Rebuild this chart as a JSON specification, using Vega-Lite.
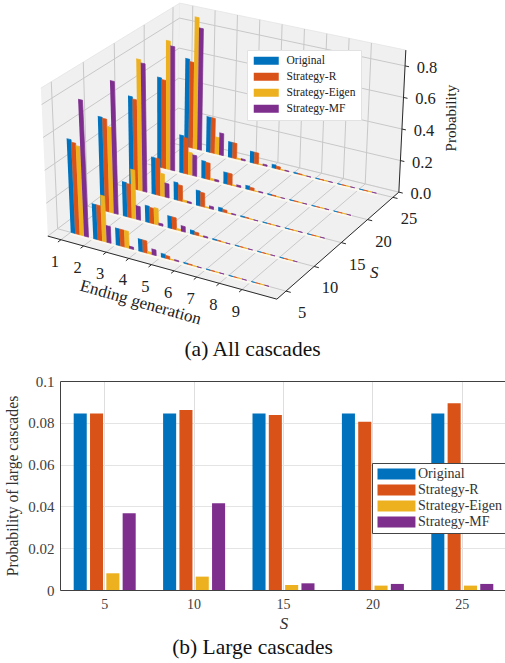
{"$schema":"https://vega.github.io/schema/vega-lite/v6.json","background":"white","padding":{"left":4,"top":0,"right":0,"bottom":0},"spacing":41,"bounds":"flush",
"config":{"view":{"stroke":null},"font":"Liberation Serif"},
"datasets":{
"scene":[
{"part":"pane","id":"left","k":0,"gen":0.42,"S":3.4,"p":0},{"part":"pane","id":"left","k":1,"gen":0.42,"S":26.2,"p":0},{"part":"pane","id":"left","k":2,"gen":0.42,"S":26.2,"p":0.9},{"part":"pane","id":"left","k":3,"gen":0.42,"S":3.4,"p":0.9},
{"part":"pane","id":"back","k":0,"gen":0.42,"S":26.2,"p":0},{"part":"pane","id":"back","k":1,"gen":10.54,"S":26.2,"p":0},{"part":"pane","id":"back","k":2,"gen":10.54,"S":26.2,"p":0.9},{"part":"pane","id":"back","k":3,"gen":0.42,"S":26.2,"p":0.9},
{"part":"pane","id":"floor","k":0,"gen":0.42,"S":3.4,"p":0},{"part":"pane","id":"floor","k":1,"gen":10.54,"S":3.4,"p":0},{"part":"pane","id":"floor","k":2,"gen":10.54,"S":26.2,"p":0},{"part":"pane","id":"floor","k":3,"gen":0.42,"S":26.2,"p":0},
{"part":"grid","id":"p0","k":0,"gen":0.42,"S":3.4,"p":0},{"part":"grid","id":"p0","k":1,"gen":0.42,"S":26.2,"p":0},{"part":"grid","id":"p0","k":2,"gen":10.54,"S":26.2,"p":0},
{"part":"grid","id":"p2","k":0,"gen":0.42,"S":3.4,"p":0.2},{"part":"grid","id":"p2","k":1,"gen":0.42,"S":26.2,"p":0.2},{"part":"grid","id":"p2","k":2,"gen":10.54,"S":26.2,"p":0.2},
{"part":"grid","id":"p4","k":0,"gen":0.42,"S":3.4,"p":0.4},{"part":"grid","id":"p4","k":1,"gen":0.42,"S":26.2,"p":0.4},{"part":"grid","id":"p4","k":2,"gen":10.54,"S":26.2,"p":0.4},
{"part":"grid","id":"p6","k":0,"gen":0.42,"S":3.4,"p":0.6},{"part":"grid","id":"p6","k":1,"gen":0.42,"S":26.2,"p":0.6},{"part":"grid","id":"p6","k":2,"gen":10.54,"S":26.2,"p":0.6},
{"part":"grid","id":"p8","k":0,"gen":0.42,"S":3.4,"p":0.8},{"part":"grid","id":"p8","k":1,"gen":0.42,"S":26.2,"p":0.8},{"part":"grid","id":"p8","k":2,"gen":10.54,"S":26.2,"p":0.8},
{"part":"grid","id":"s5","k":0,"gen":10.54,"S":5,"p":0},{"part":"grid","id":"s5","k":1,"gen":0.42,"S":5,"p":0},{"part":"grid","id":"s5","k":2,"gen":0.42,"S":5,"p":0.9},
{"part":"grid","id":"s10","k":0,"gen":10.54,"S":10,"p":0},{"part":"grid","id":"s10","k":1,"gen":0.42,"S":10,"p":0},{"part":"grid","id":"s10","k":2,"gen":0.42,"S":10,"p":0.9},
{"part":"grid","id":"s15","k":0,"gen":10.54,"S":15,"p":0},{"part":"grid","id":"s15","k":1,"gen":0.42,"S":15,"p":0},{"part":"grid","id":"s15","k":2,"gen":0.42,"S":15,"p":0.9},
{"part":"grid","id":"s20","k":0,"gen":10.54,"S":20,"p":0},{"part":"grid","id":"s20","k":1,"gen":0.42,"S":20,"p":0},{"part":"grid","id":"s20","k":2,"gen":0.42,"S":20,"p":0.9},
{"part":"grid","id":"s25","k":0,"gen":10.54,"S":25,"p":0},{"part":"grid","id":"s25","k":1,"gen":0.42,"S":25,"p":0},{"part":"grid","id":"s25","k":2,"gen":0.42,"S":25,"p":0.9},
{"part":"grid","id":"g1","k":0,"gen":1,"S":3.4,"p":0},{"part":"grid","id":"g1","k":1,"gen":1,"S":26.2,"p":0},{"part":"grid","id":"g1","k":2,"gen":1,"S":26.2,"p":0.9},
{"part":"grid","id":"g2","k":0,"gen":2,"S":3.4,"p":0},{"part":"grid","id":"g2","k":1,"gen":2,"S":26.2,"p":0},{"part":"grid","id":"g2","k":2,"gen":2,"S":26.2,"p":0.9},
{"part":"grid","id":"g3","k":0,"gen":3,"S":3.4,"p":0},{"part":"grid","id":"g3","k":1,"gen":3,"S":26.2,"p":0},{"part":"grid","id":"g3","k":2,"gen":3,"S":26.2,"p":0.9},
{"part":"grid","id":"g4","k":0,"gen":4,"S":3.4,"p":0},{"part":"grid","id":"g4","k":1,"gen":4,"S":26.2,"p":0},{"part":"grid","id":"g4","k":2,"gen":4,"S":26.2,"p":0.9},
{"part":"grid","id":"g5","k":0,"gen":5,"S":3.4,"p":0},{"part":"grid","id":"g5","k":1,"gen":5,"S":26.2,"p":0},{"part":"grid","id":"g5","k":2,"gen":5,"S":26.2,"p":0.9},
{"part":"grid","id":"g6","k":0,"gen":6,"S":3.4,"p":0},{"part":"grid","id":"g6","k":1,"gen":6,"S":26.2,"p":0},{"part":"grid","id":"g6","k":2,"gen":6,"S":26.2,"p":0.9},
{"part":"grid","id":"g7","k":0,"gen":7,"S":3.4,"p":0},{"part":"grid","id":"g7","k":1,"gen":7,"S":26.2,"p":0},{"part":"grid","id":"g7","k":2,"gen":7,"S":26.2,"p":0.9},
{"part":"grid","id":"g8","k":0,"gen":8,"S":3.4,"p":0},{"part":"grid","id":"g8","k":1,"gen":8,"S":26.2,"p":0},{"part":"grid","id":"g8","k":2,"gen":8,"S":26.2,"p":0.9},
{"part":"grid","id":"g9","k":0,"gen":9,"S":3.4,"p":0},{"part":"grid","id":"g9","k":1,"gen":9,"S":26.2,"p":0},{"part":"grid","id":"g9","k":2,"gen":9,"S":26.2,"p":0.9},
{"part":"axis","id":"ax","k":0,"gen":0.42,"S":3.4,"p":0},{"part":"axis","id":"ax","k":1,"gen":10.54,"S":3.4,"p":0},{"part":"axis","id":"ax","k":2,"gen":10.54,"S":26.2,"p":0},{"part":"axis","id":"ax","k":3,"gen":10.54,"S":26.2,"p":0.9},
{"part":"axis","id":"tg1","k":0,"gen":1,"S":3.4,"p":0},{"part":"axis","id":"tg1","k":1,"gen":1,"S":2.9,"p":0},
{"part":"axis","id":"tg2","k":0,"gen":2,"S":3.4,"p":0},{"part":"axis","id":"tg2","k":1,"gen":2,"S":2.9,"p":0},
{"part":"axis","id":"tg3","k":0,"gen":3,"S":3.4,"p":0},{"part":"axis","id":"tg3","k":1,"gen":3,"S":2.9,"p":0},
{"part":"axis","id":"tg4","k":0,"gen":4,"S":3.4,"p":0},{"part":"axis","id":"tg4","k":1,"gen":4,"S":2.9,"p":0},
{"part":"axis","id":"tg5","k":0,"gen":5,"S":3.4,"p":0},{"part":"axis","id":"tg5","k":1,"gen":5,"S":2.9,"p":0},
{"part":"axis","id":"tg6","k":0,"gen":6,"S":3.4,"p":0},{"part":"axis","id":"tg6","k":1,"gen":6,"S":2.9,"p":0},
{"part":"axis","id":"tg7","k":0,"gen":7,"S":3.4,"p":0},{"part":"axis","id":"tg7","k":1,"gen":7,"S":2.9,"p":0},
{"part":"axis","id":"tg8","k":0,"gen":8,"S":3.4,"p":0},{"part":"axis","id":"tg8","k":1,"gen":8,"S":2.9,"p":0},
{"part":"axis","id":"tg9","k":0,"gen":9,"S":3.4,"p":0},{"part":"axis","id":"tg9","k":1,"gen":9,"S":2.9,"p":0},
{"part":"axis","id":"ts5","k":0,"gen":10.54,"S":5,"p":0},{"part":"axis","id":"ts5","k":1,"gen":10.75,"S":5,"p":0},
{"part":"axis","id":"ts10","k":0,"gen":10.54,"S":10,"p":0},{"part":"axis","id":"ts10","k":1,"gen":10.75,"S":10,"p":0},
{"part":"axis","id":"ts15","k":0,"gen":10.54,"S":15,"p":0},{"part":"axis","id":"ts15","k":1,"gen":10.75,"S":15,"p":0},
{"part":"axis","id":"ts20","k":0,"gen":10.54,"S":20,"p":0},{"part":"axis","id":"ts20","k":1,"gen":10.75,"S":20,"p":0},
{"part":"axis","id":"ts25","k":0,"gen":10.54,"S":25,"p":0},{"part":"axis","id":"ts25","k":1,"gen":10.75,"S":25,"p":0},
{"part":"axis","id":"tp0","k":0,"gen":10.54,"S":26.2,"p":0},{"part":"axis","id":"tp0","k":1,"gen":10.72,"S":26.2,"p":0},
{"part":"axis","id":"tp2","k":0,"gen":10.54,"S":26.2,"p":0.2},{"part":"axis","id":"tp2","k":1,"gen":10.72,"S":26.2,"p":0.2},
{"part":"axis","id":"tp4","k":0,"gen":10.54,"S":26.2,"p":0.4},{"part":"axis","id":"tp4","k":1,"gen":10.72,"S":26.2,"p":0.4},
{"part":"axis","id":"tp6","k":0,"gen":10.54,"S":26.2,"p":0.6},{"part":"axis","id":"tp6","k":1,"gen":10.72,"S":26.2,"p":0.6},
{"part":"axis","id":"tp8","k":0,"gen":10.54,"S":26.2,"p":0.8},{"part":"axis","id":"tp8","k":1,"gen":10.72,"S":26.2,"p":0.8},
{"part":"genLabel","label":"1","gen":1,"S":3.4,"p":0},{"part":"genLabel","label":"2","gen":2,"S":3.4,"p":0},{"part":"genLabel","label":"3","gen":3,"S":3.4,"p":0},{"part":"genLabel","label":"4","gen":4,"S":3.4,"p":0},{"part":"genLabel","label":"5","gen":5,"S":3.4,"p":0},{"part":"genLabel","label":"6","gen":6,"S":3.4,"p":0},{"part":"genLabel","label":"7","gen":7,"S":3.4,"p":0},{"part":"genLabel","label":"8","gen":8,"S":3.4,"p":0},{"part":"genLabel","label":"9","gen":9,"S":3.4,"p":0},
{"part":"sLabel","label":"5","gen":10.54,"S":5,"p":0},{"part":"sLabel","label":"10","gen":10.54,"S":10,"p":0},{"part":"sLabel","label":"15","gen":10.54,"S":15,"p":0},{"part":"sLabel","label":"20","gen":10.54,"S":20,"p":0},{"part":"sLabel","label":"25","gen":10.54,"S":25,"p":0},
{"part":"pLabel","label":"0.0","gen":10.54,"S":26.2,"p":0},{"part":"pLabel","label":"0.2","gen":10.54,"S":26.2,"p":0.2},{"part":"pLabel","label":"0.4","gen":10.54,"S":26.2,"p":0.4},{"part":"pLabel","label":"0.6","gen":10.54,"S":26.2,"p":0.6},{"part":"pLabel","label":"0.8","gen":10.54,"S":26.2,"p":0.8},
{"part":"genTitle","label":"Ending generation","gen":5,"S":3.4,"p":0},
{"part":"sTitle","label":"S","gen":10.54,"S":15,"p":0},
{"part":"pTitle","label":"Probability","gen":10.54,"S":26.2,"p":0.45}
],
"bars3d":[
{"S":25,"gen":1,"strategy":"Floor","p":0},
{"S":25,"gen":1,"strategy":"Original","p":0.58},{"S":25,"gen":1,"strategy":"Strategy-R","p":0.565},{"S":25,"gen":1,"strategy":"Strategy-Eigen","p":0.867},{"S":25,"gen":1,"strategy":"Strategy-MF","p":0.8},
{"S":25,"gen":2,"strategy":"Original","p":0.23},{"S":25,"gen":2,"strategy":"Strategy-R","p":0.23},{"S":25,"gen":2,"strategy":"Strategy-Eigen","p":0.11},{"S":25,"gen":2,"strategy":"Strategy-MF","p":0.143},
{"S":25,"gen":3,"strategy":"Original","p":0.1},{"S":25,"gen":3,"strategy":"Strategy-R","p":0.1},{"S":25,"gen":3,"strategy":"Strategy-Eigen","p":0.007},{"S":25,"gen":3,"strategy":"Strategy-MF","p":0.009},
{"S":25,"gen":4,"strategy":"Original","p":0.072},{"S":25,"gen":4,"strategy":"Strategy-R","p":0.072},{"S":25,"gen":4,"strategy":"Strategy-Eigen","p":0.004},{"S":25,"gen":4,"strategy":"Strategy-MF","p":0.009},
{"S":25,"gen":5,"strategy":"Original","p":0.022},{"S":25,"gen":5,"strategy":"Strategy-R","p":0.017},{"S":25,"gen":5,"strategy":"Strategy-Eigen","p":0.002},{"S":25,"gen":5,"strategy":"Strategy-MF","p":0.004},
{"S":25,"gen":6,"strategy":"Original","p":0.005},{"S":25,"gen":6,"strategy":"Strategy-R","p":0.004},{"S":25,"gen":6,"strategy":"Strategy-Eigen","p":0.001},{"S":25,"gen":6,"strategy":"Strategy-MF","p":0.001},
{"S":25,"gen":7,"strategy":"Original","p":0.002},{"S":25,"gen":7,"strategy":"Strategy-R","p":0.002},{"S":25,"gen":7,"strategy":"Strategy-Eigen","p":0.001},{"S":25,"gen":7,"strategy":"Strategy-MF","p":0.001},
{"S":25,"gen":8,"strategy":"Original","p":0.001},{"S":25,"gen":8,"strategy":"Strategy-R","p":0.001},{"S":25,"gen":8,"strategy":"Strategy-Eigen","p":0.001},{"S":25,"gen":8,"strategy":"Strategy-MF","p":0.001},
{"S":25,"gen":9,"strategy":"Original","p":0.001},{"S":25,"gen":9,"strategy":"Strategy-R","p":0.001},{"S":25,"gen":9,"strategy":"Strategy-Eigen","p":0.001},{"S":25,"gen":9,"strategy":"Strategy-MF","p":0.001},
{"S":20,"gen":1,"strategy":"Floor","p":0},
{"S":20,"gen":1,"strategy":"Original","p":0.58},{"S":20,"gen":1,"strategy":"Strategy-R","p":0.57},{"S":20,"gen":1,"strategy":"Strategy-Eigen","p":0.83},{"S":20,"gen":1,"strategy":"Strategy-MF","p":0.8},
{"S":20,"gen":2,"strategy":"Original","p":0.24},{"S":20,"gen":2,"strategy":"Strategy-R","p":0.23},{"S":20,"gen":2,"strategy":"Strategy-Eigen","p":0.143},{"S":20,"gen":2,"strategy":"Strategy-MF","p":0.132},
{"S":20,"gen":3,"strategy":"Original","p":0.11},{"S":20,"gen":3,"strategy":"Strategy-R","p":0.105},{"S":20,"gen":3,"strategy":"Strategy-Eigen","p":0.011},{"S":20,"gen":3,"strategy":"Strategy-MF","p":0.011},
{"S":20,"gen":4,"strategy":"Original","p":0.072},{"S":20,"gen":4,"strategy":"Strategy-R","p":0.072},{"S":20,"gen":4,"strategy":"Strategy-Eigen","p":0.005},{"S":20,"gen":4,"strategy":"Strategy-MF","p":0.011},
{"S":20,"gen":5,"strategy":"Original","p":0.022},{"S":20,"gen":5,"strategy":"Strategy-R","p":0.017},{"S":20,"gen":5,"strategy":"Strategy-Eigen","p":0.002},{"S":20,"gen":5,"strategy":"Strategy-MF","p":0.005},
{"S":20,"gen":6,"strategy":"Original","p":0.005},{"S":20,"gen":6,"strategy":"Strategy-R","p":0.004},{"S":20,"gen":6,"strategy":"Strategy-Eigen","p":0.001},{"S":20,"gen":6,"strategy":"Strategy-MF","p":0.001},
{"S":20,"gen":7,"strategy":"Original","p":0.002},{"S":20,"gen":7,"strategy":"Strategy-R","p":0.002},{"S":20,"gen":7,"strategy":"Strategy-Eigen","p":0.001},{"S":20,"gen":7,"strategy":"Strategy-MF","p":0.001},
{"S":20,"gen":8,"strategy":"Original","p":0.001},{"S":20,"gen":8,"strategy":"Strategy-R","p":0.001},{"S":20,"gen":8,"strategy":"Strategy-Eigen","p":0.001},{"S":20,"gen":8,"strategy":"Strategy-MF","p":0.001},
{"S":20,"gen":9,"strategy":"Original","p":0.001},{"S":20,"gen":9,"strategy":"Strategy-R","p":0.001},{"S":20,"gen":9,"strategy":"Strategy-Eigen","p":0.001},{"S":20,"gen":9,"strategy":"Strategy-MF","p":0.001},
{"S":15,"gen":1,"strategy":"Floor","p":0},
{"S":15,"gen":1,"strategy":"Original","p":0.583},{"S":15,"gen":1,"strategy":"Strategy-R","p":0.57},{"S":15,"gen":1,"strategy":"Strategy-Eigen","p":0.83},{"S":15,"gen":1,"strategy":"Strategy-MF","p":0.81},
{"S":15,"gen":2,"strategy":"Original","p":0.23},{"S":15,"gen":2,"strategy":"Strategy-R","p":0.23},{"S":15,"gen":2,"strategy":"Strategy-Eigen","p":0.142},{"S":15,"gen":2,"strategy":"Strategy-MF","p":0.087},
{"S":15,"gen":3,"strategy":"Original","p":0.109},{"S":15,"gen":3,"strategy":"Strategy-R","p":0.098},{"S":15,"gen":3,"strategy":"Strategy-Eigen","p":0.011},{"S":15,"gen":3,"strategy":"Strategy-MF","p":0.009},
{"S":15,"gen":4,"strategy":"Original","p":0.093},{"S":15,"gen":4,"strategy":"Strategy-R","p":0.087},{"S":15,"gen":4,"strategy":"Strategy-Eigen","p":0.005},{"S":15,"gen":4,"strategy":"Strategy-MF","p":0.016},
{"S":15,"gen":5,"strategy":"Original","p":0.022},{"S":15,"gen":5,"strategy":"Strategy-R","p":0.016},{"S":15,"gen":5,"strategy":"Strategy-Eigen","p":0.002},{"S":15,"gen":5,"strategy":"Strategy-MF","p":0.005},
{"S":15,"gen":6,"strategy":"Original","p":0.005},{"S":15,"gen":6,"strategy":"Strategy-R","p":0.004},{"S":15,"gen":6,"strategy":"Strategy-Eigen","p":0.001},{"S":15,"gen":6,"strategy":"Strategy-MF","p":0.001},
{"S":15,"gen":7,"strategy":"Original","p":0.002},{"S":15,"gen":7,"strategy":"Strategy-R","p":0.002},{"S":15,"gen":7,"strategy":"Strategy-Eigen","p":0.001},{"S":15,"gen":7,"strategy":"Strategy-MF","p":0.001},
{"S":15,"gen":8,"strategy":"Original","p":0.001},{"S":15,"gen":8,"strategy":"Strategy-R","p":0.001},{"S":15,"gen":8,"strategy":"Strategy-Eigen","p":0.001},{"S":15,"gen":8,"strategy":"Strategy-MF","p":0.001},
{"S":15,"gen":9,"strategy":"Original","p":0.001},{"S":15,"gen":9,"strategy":"Strategy-R","p":0.001},{"S":15,"gen":9,"strategy":"Strategy-Eigen","p":0.001},{"S":15,"gen":9,"strategy":"Strategy-MF","p":0.001},
{"S":10,"gen":1,"strategy":"Floor","p":0},
{"S":10,"gen":1,"strategy":"Original","p":0.58},{"S":10,"gen":1,"strategy":"Strategy-R","p":0.575},{"S":10,"gen":1,"strategy":"Strategy-Eigen","p":0.53},{"S":10,"gen":1,"strategy":"Strategy-MF","p":0.82},
{"S":10,"gen":2,"strategy":"Original","p":0.21},{"S":10,"gen":2,"strategy":"Strategy-R","p":0.205},{"S":10,"gen":2,"strategy":"Strategy-Eigen","p":0.3},{"S":10,"gen":2,"strategy":"Strategy-MF","p":0.083},
{"S":10,"gen":3,"strategy":"Original","p":0.1},{"S":10,"gen":3,"strategy":"Strategy-R","p":0.094},{"S":10,"gen":3,"strategy":"Strategy-Eigen","p":0.1},{"S":10,"gen":3,"strategy":"Strategy-MF","p":0.013},
{"S":10,"gen":4,"strategy":"Original","p":0.072},{"S":10,"gen":4,"strategy":"Strategy-R","p":0.072},{"S":10,"gen":4,"strategy":"Strategy-Eigen","p":0.009},{"S":10,"gen":4,"strategy":"Strategy-MF","p":0.033},
{"S":10,"gen":5,"strategy":"Original","p":0.022},{"S":10,"gen":5,"strategy":"Strategy-R","p":0.017},{"S":10,"gen":5,"strategy":"Strategy-Eigen","p":0.003},{"S":10,"gen":5,"strategy":"Strategy-MF","p":0.007},
{"S":10,"gen":6,"strategy":"Original","p":0.005},{"S":10,"gen":6,"strategy":"Strategy-R","p":0.004},{"S":10,"gen":6,"strategy":"Strategy-Eigen","p":0.001},{"S":10,"gen":6,"strategy":"Strategy-MF","p":0.001},
{"S":10,"gen":7,"strategy":"Original","p":0.002},{"S":10,"gen":7,"strategy":"Strategy-R","p":0.002},{"S":10,"gen":7,"strategy":"Strategy-Eigen","p":0.001},{"S":10,"gen":7,"strategy":"Strategy-MF","p":0.001},
{"S":10,"gen":8,"strategy":"Original","p":0.001},{"S":10,"gen":8,"strategy":"Strategy-R","p":0.001},{"S":10,"gen":8,"strategy":"Strategy-Eigen","p":0.001},{"S":10,"gen":8,"strategy":"Strategy-MF","p":0.001},
{"S":10,"gen":9,"strategy":"Original","p":0.001},{"S":10,"gen":9,"strategy":"Strategy-R","p":0.001},{"S":10,"gen":9,"strategy":"Strategy-Eigen","p":0.001},{"S":10,"gen":9,"strategy":"Strategy-MF","p":0.001},
{"S":5,"gen":1,"strategy":"Floor","p":0},
{"S":5,"gen":1,"strategy":"Original","p":0.57},{"S":5,"gen":1,"strategy":"Strategy-R","p":0.555},{"S":5,"gen":1,"strategy":"Strategy-Eigen","p":0.54},{"S":5,"gen":1,"strategy":"Strategy-MF","p":0.827},
{"S":5,"gen":2,"strategy":"Original","p":0.21},{"S":5,"gen":2,"strategy":"Strategy-R","p":0.21},{"S":5,"gen":2,"strategy":"Strategy-Eigen","p":0.275},{"S":5,"gen":2,"strategy":"Strategy-MF","p":0.1},
{"S":5,"gen":3,"strategy":"Original","p":0.1},{"S":5,"gen":3,"strategy":"Strategy-R","p":0.1},{"S":5,"gen":3,"strategy":"Strategy-Eigen","p":0.1},{"S":5,"gen":3,"strategy":"Strategy-MF","p":0.013},
{"S":5,"gen":4,"strategy":"Original","p":0.072},{"S":5,"gen":4,"strategy":"Strategy-R","p":0.072},{"S":5,"gen":4,"strategy":"Strategy-Eigen","p":0.011},{"S":5,"gen":4,"strategy":"Strategy-MF","p":0.033},
{"S":5,"gen":5,"strategy":"Original","p":0.022},{"S":5,"gen":5,"strategy":"Strategy-R","p":0.017},{"S":5,"gen":5,"strategy":"Strategy-Eigen","p":0.003},{"S":5,"gen":5,"strategy":"Strategy-MF","p":0.006},
{"S":5,"gen":6,"strategy":"Original","p":0.005},{"S":5,"gen":6,"strategy":"Strategy-R","p":0.004},{"S":5,"gen":6,"strategy":"Strategy-Eigen","p":0.001},{"S":5,"gen":6,"strategy":"Strategy-MF","p":0.001},
{"S":5,"gen":7,"strategy":"Original","p":0.002},{"S":5,"gen":7,"strategy":"Strategy-R","p":0.002},{"S":5,"gen":7,"strategy":"Strategy-Eigen","p":0.001},{"S":5,"gen":7,"strategy":"Strategy-MF","p":0.001},
{"S":5,"gen":8,"strategy":"Original","p":0.001},{"S":5,"gen":8,"strategy":"Strategy-R","p":0.001},{"S":5,"gen":8,"strategy":"Strategy-Eigen","p":0.001},{"S":5,"gen":8,"strategy":"Strategy-MF","p":0.001},
{"S":5,"gen":9,"strategy":"Original","p":0.001},{"S":5,"gen":9,"strategy":"Strategy-R","p":0.001},{"S":5,"gen":9,"strategy":"Strategy-Eigen","p":0.001},{"S":5,"gen":9,"strategy":"Strategy-MF","p":0.001}
],
"large":[
{"S":5,"strategy":"Original","p":0.0845},{"S":5,"strategy":"Strategy-R","p":0.0845},{"S":5,"strategy":"Strategy-Eigen","p":0.008},{"S":5,"strategy":"Strategy-MF","p":0.0367},
{"S":10,"strategy":"Original","p":0.0845},{"S":10,"strategy":"Strategy-R","p":0.0861},{"S":10,"strategy":"Strategy-Eigen","p":0.0064},{"S":10,"strategy":"Strategy-MF","p":0.0415},
{"S":15,"strategy":"Original","p":0.0845},{"S":15,"strategy":"Strategy-R","p":0.0837},{"S":15,"strategy":"Strategy-Eigen","p":0.0024},{"S":15,"strategy":"Strategy-MF","p":0.0032},
{"S":20,"strategy":"Original","p":0.0845},{"S":20,"strategy":"Strategy-R","p":0.0805},{"S":20,"strategy":"Strategy-Eigen","p":0.0021},{"S":20,"strategy":"Strategy-MF","p":0.0029},
{"S":25,"strategy":"Original","p":0.0845},{"S":25,"strategy":"Strategy-R","p":0.0893},{"S":25,"strategy":"Strategy-Eigen","p":0.0021},{"S":25,"strategy":"Strategy-MF","p":0.0029}
]},
"vconcat":[
{"width":447,"height":340,
"title":{"text":"(a) All cascades","orient":"bottom","anchor":"middle","fontSize":21.5,"fontWeight":"normal","font":"Liberation Serif","color":"#111","dx":-31,"offset":-1},
"data":{"name":"scene"},
"transform":[
{"calculate":"(datum.gen-0.42)/10.12","as":"u"},
{"calculate":"(datum.S-5)/20","as":"t"},
{"calculate":"0.074+0.876*datum.t+0.06*datum.t*(1-datum.t)","as":"v"},
{"calculate":"datum.p/0.9","as":"w"},
{"calculate":"49+229*datum.u+130*datum.v-8*datum.u*datum.v","as":"fx"},
{"calculate":"236+63*datum.u-98*datum.v-9*datum.u*datum.v","as":"fy"},
{"calculate":"datum.fx+datum.w*(42+227*datum.u+139*datum.v-datum.u*datum.v-datum.fx)","as":"sx"},
{"calculate":"datum.fy+datum.w*(88+47*datum.u-85*datum.v-datum.fy)","as":"sy"}
],
"encoding":{
"x":{"field":"sx","type":"quantitative","axis":null,"scale":{"domain":[61,508],"nice":false,"zero":false}},
"y":{"field":"sy","type":"quantitative","axis":null,"scale":{"domain":[340,0],"nice":false,"zero":false}}
},
"layer":[
{"transform":[{"filter":"datum.part=='pane'"}],"mark":{"type":"line","fill":"#f0f0f0","stroke":"#e4e4e4","strokeWidth":0.8,"clip":false},"encoding":{"detail":{"field":"id"},"order":{"field":"k"}}},
{"transform":[{"filter":"datum.part=='grid'"}],"mark":{"type":"line","stroke":"#c8c8c8","strokeWidth":1},"encoding":{"detail":{"field":"id"},"order":{"field":"k"}}},
{"transform":[{"filter":"datum.part=='axis'"}],"mark":{"type":"line","stroke":"#2a2a2a","strokeWidth":1},"encoding":{"detail":{"field":"id"},"order":{"field":"k"}}},
{"data":{"name":"bars3d"},
"transform":[
{"calculate":"[0,1,2,3]","as":"k"},{"flatten":["k"]},
{"calculate":"datum.S+'-'+datum.gen+'-'+datum.strategy","as":"barId"},
{"calculate":"indexof(['Original','Strategy-R','Strategy-Eigen','Strategy-MF'],datum.strategy)","as":"idx"},
{"calculate":"datum.strategy=='Floor'?0.87:0.0195","as":"bw"},
{"calculate":"(datum.gen-0.42)/10.12+(datum.strategy=='Floor'?0:datum.idx*0.0195)+((datum.k==1||datum.k==2)?datum.bw:0)","as":"u"},
{"calculate":"(datum.S-5)/20","as":"t"},
{"calculate":"0.074+0.876*datum.t+0.06*datum.t*(1-datum.t)","as":"v"},
{"calculate":"datum.k>=2?datum.p/0.9:0","as":"w"},
{"calculate":"49+229*datum.u+130*datum.v-8*datum.u*datum.v","as":"fx"},
{"calculate":"236+63*datum.u-98*datum.v-9*datum.u*datum.v+((datum.strategy=='Floor'&&datum.k<2)?2:0)","as":"fy"},
{"calculate":"datum.fx+datum.w*(42+227*datum.u+139*datum.v-datum.u*datum.v-datum.fx)","as":"sx"},
{"calculate":"datum.fy+datum.w*(88+47*datum.u-85*datum.v-datum.fy)","as":"sy"}
],
"mark":{"type":"line","strokeWidth":0.7},
"encoding":{"detail":{"field":"barId"},"order":{"field":"k"},
"fill":{"field":"strategy","type":"nominal","scale":{"domain":["Original","Strategy-R","Strategy-Eigen","Strategy-MF","Floor"],"range":["#0072BD","#D95319","#EDB120","#7E2F8E","#fbf8ef"]},
"legend":{"values":["Original","Strategy-R","Strategy-Eigen","Strategy-MF"],"title":null,"orient":"none","legendX":187,"legendY":50,"padding":5,"fillColor":"#ffffff","strokeColor":"#e2e2e2","symbolType":"M-1,-1H5.25V1H-1Z","symbolSize":64,"symbolStrokeWidth":0,"labelOffset":23,"labelFontSize":11.5,"labelFont":"Liberation Serif","labelColor":"#222","rowPadding":3}},
"stroke":{"field":"strategy","type":"nominal","legend":null,"scale":{"domain":["Original","Strategy-R","Strategy-Eigen","Strategy-MF","Floor"],"range":["#0072BD","#D95319","#EDB120","#7E2F8E","#fbf8ef"]}}
}},
{"transform":[{"filter":"datum.part=='genLabel'"}],"mark":{"type":"text","dx":-6,"dy":22,"fontSize":16.5,"font":"Liberation Serif","fill":"#222"},"encoding":{"text":{"field":"label"}}},
{"transform":[{"filter":"datum.part=='sLabel'"}],"mark":{"type":"text","dx":16,"dy":22,"fontSize":16.5,"font":"Liberation Serif","fill":"#222"},"encoding":{"text":{"field":"label"}}},
{"transform":[{"filter":"datum.part=='pLabel'"}],"mark":{"type":"text","dx":22,"dy":2,"fontSize":16.5,"font":"Liberation Serif","fill":"#222"},"encoding":{"text":{"field":"label"}}},
{"transform":[{"filter":"datum.part=='genTitle'"}],"mark":{"type":"text","dx":0,"dy":39.5,"angle":16,"fontSize":17,"font":"Liberation Serif","fill":"#222"},"encoding":{"text":{"field":"label"}}},
{"transform":[{"filter":"datum.part=='sTitle'"}],"mark":{"type":"text","dx":33,"dy":30,"fontSize":17,"fontStyle":"italic","font":"Liberation Serif","fill":"#222"},"encoding":{"text":{"field":"label"}}},
{"transform":[{"filter":"datum.part=='pTitle'"}],"mark":{"type":"text","dx":3,"dy":49,"angle":270,"fontSize":15,"font":"Liberation Serif","fill":"#222"},"encoding":{"text":{"field":"label"}}}
]},
{"width":447,"height":209,
"title":{"text":"(b) Large cascades","orient":"bottom","anchor":"middle","fontSize":21.5,"fontWeight":"normal","font":"Liberation Serif","color":"#111","dx":-31,"offset":6},
"data":{"name":"large"},
"mark":{"type":"bar"},
"encoding":{
"x":{"field":"S","type":"ordinal","sort":[5,10,15,20,25],"scale":{"paddingInner":0.27,"paddingOuter":0.135},"axis":{"title":"S","titleFontStyle":"italic","titleFontWeight":"normal","titleFont":"Liberation Serif","titleFontSize":17,"titleColor":"#333","titlePadding":4,"labelAngle":0,"labelFont":"Liberation Serif","labelFontSize":14,"labelColor":"#404040","labelPadding":7,"tickSize":0,"domainColor":"#404040","grid":true,"gridColor":"#dedede"}},
"xOffset":{"field":"strategy","type":"nominal","sort":["Original","Strategy-R","Strategy-Eigen","Strategy-MF"],"scale":{"paddingInner":0.2,"paddingOuter":0.1}},
"y":{"field":"p","type":"quantitative","scale":{"domain":[0,0.1],"nice":false},"axis":{"title":"Probability of large cascades","titleFont":"Liberation Serif","titleFontWeight":"normal","titleFontSize":15.7,"titleColor":"#333","titlePadding":7,"values":[0,0.02,0.04,0.06,0.08,0.1],"format":"~g","labelFont":"Liberation Serif","labelFontSize":15,"labelColor":"#404040","labelPadding":6,"tickSize":0,"domainColor":"#404040","grid":true,"gridColor":{"condition":{"test":"datum.value==0.1","value":"#404040"},"value":"#e4e4e4"}}},
"color":{"field":"strategy","type":"nominal","scale":{"domain":["Original","Strategy-R","Strategy-Eigen","Strategy-MF"],"range":["#0072BD","#D95319","#EDB120","#7E2F8E"]},
"legend":{"title":null,"orient":"none","legendX":312,"legendY":82,"padding":4,"fillColor":"#ffffff","strokeColor":"#444444","symbolType":"M-1,-1H5.9V1H-1Z","symbolSize":121,"symbolStrokeWidth":0,"labelOffset":28,"labelFontSize":14,"labelFont":"Liberation Serif","labelColor":"#333","rowPadding":2}}
}}
],
"resolve":{"scale":{"color":"independent","fill":"independent","stroke":"independent"},"legend":{"color":"independent","fill":"independent"}}
}
